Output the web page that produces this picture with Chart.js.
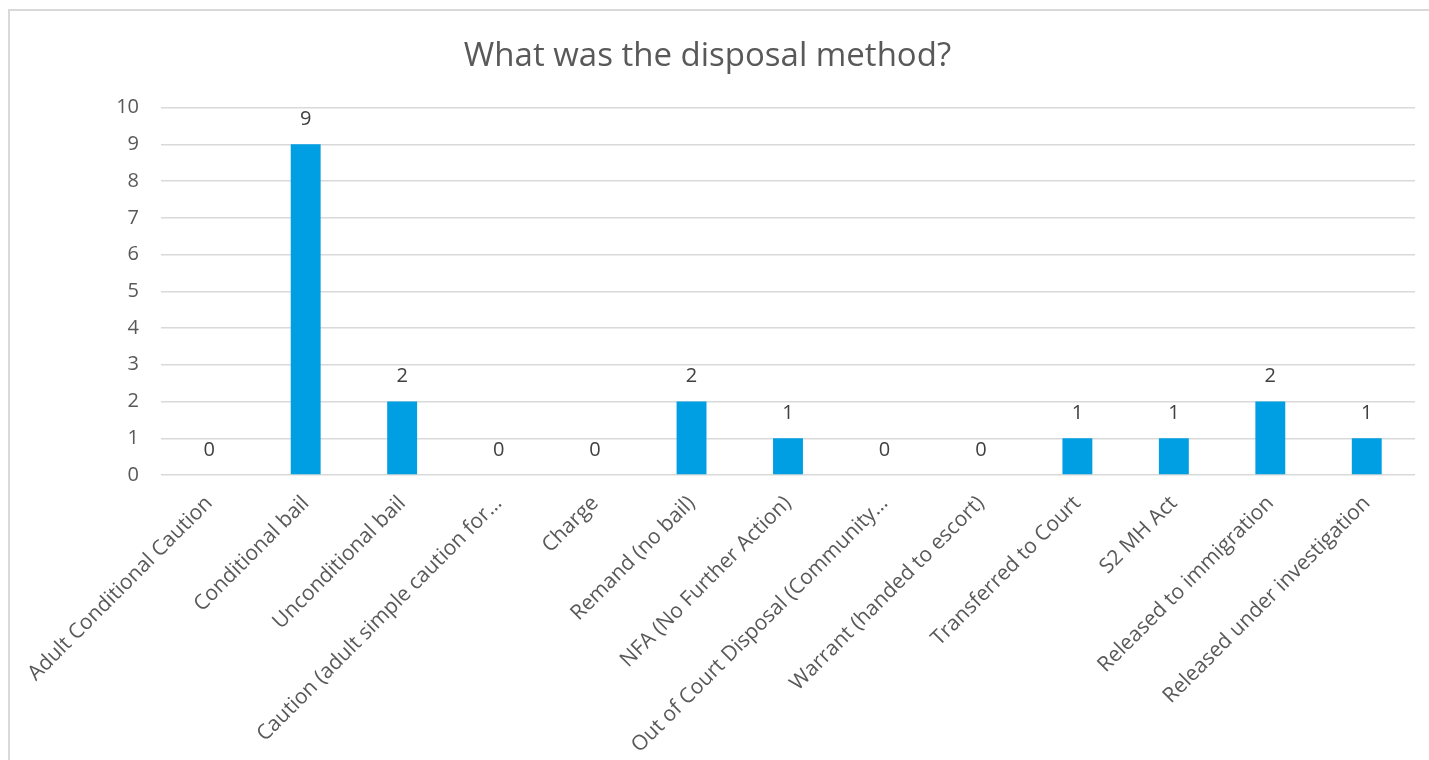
<!DOCTYPE html>
<html>
<head>
<meta charset="utf-8">
<script src="https://cdn.jsdelivr.net/npm/chart.js@4"></script>
<style>
  html, body { margin: 0; padding: 0; background: #fff; overflow: hidden; }
  #wrap { position: relative; width: 1429px; height: 760px; overflow: hidden; }
  #frame { position: absolute; left: 8px; top: 9px; width: 1500px; height: 820px; border-left: 2px solid #d9d9d9; border-top: 2px solid #d9d9d9; }
  #chart { position: absolute; left: 0; top: 0; }
</style>
</head>
<body>
<div id="wrap">
  <div id="frame"></div>
  <canvas id="chart" width="1429" height="760"></canvas>
</div>
<script>
// chart data
const categories = [
  'Adult Conditional Caution',
  'Conditional bail',
  'Unconditional bail',
  'Caution (adult simple caution for…',
  'Charge',
  'Remand (no bail)',
  'NFA (No Further Action)',
  'Out of Court Disposal (Community…',
  'Warrant (handed to escort)',
  'Transferred to Court',
  'S2 MH Act',
  'Released to immigration',
  'Released under investigation'
];
const counts = [0, 9, 2, 0, 0, 2, 1, 0, 0, 1, 1, 2, 1];
const yTicks = [0, 1, 2, 3, 4, 5, 6, 7, 8, 9, 10];

const fontName = "'Open Sans', 'DejaVu Sans', sans-serif";

// draws the value above each bar (zeros too, like Excel)
const valueLabels = {
  id: 'valueLabels',
  afterDatasetsDraw(chart) {
    const ctx = chart.ctx;
    const meta = chart.getDatasetMeta(0);
    ctx.save();
    ctx.font = '20px ' + fontName;
    ctx.fillStyle = '#404040';
    ctx.textAlign = 'center';
    ctx.textBaseline = 'middle';
    meta.data.forEach((bar, i) => {
      ctx.fillText(String(counts[i]), bar.x, bar.y - 25);
    });
    ctx.restore();
  }
};

const ctx = document.getElementById('chart');
const chart = new Chart(ctx, {
  type: 'bar',
  data: {
    labels: categories,
    datasets: [{
      label: 'Count',
      data: counts,
      backgroundColor: '#009FE3',
      borderWidth: 0,
      barPercentage: 0.31,
      categoryPercentage: 1
    }]
  },
  options: {
    responsive: false,
    animation: false,
    layout: { padding: { left: 0, right: 14, top: 0, bottom: 0 } },
    plugins: {
      legend: { display: false },
      tooltip: { enabled: false },
      title: {
        display: true,
        text: 'What was the disposal method?',
        color: '#595959',
        font: { family: fontName, size: 33, weight: 'normal' },
        padding: { top: 37, bottom: 31 }
      }
    },
    scales: {
      x: {
        grid: { display: false },
        border: { display: false },
        ticks: {
          color: '#595959',
          font: { family: fontName, size: 21 },
          autoSkip: false,
          maxRotation: 45,
          minRotation: 45,
          padding: 8
        },
        afterFit(scale) { scale.height = 285; }
      },
      y: {
        min: 0,
        max: 10,
        afterBuildTicks(scale) { scale.ticks = yTicks.map(v => ({ value: v })); },
        grid: { color: '#d9d9d9', lineWidth: 1.5, drawTicks: false },
        border: { display: false },
        ticks: {
          color: '#595959',
          font: { family: fontName, size: 20 },
          padding: 22
        },
        afterFit(scale) { scale.width = 161; }
      }
    }
  },
  plugins: [valueLabels]
});
</script>
</body>
</html>
